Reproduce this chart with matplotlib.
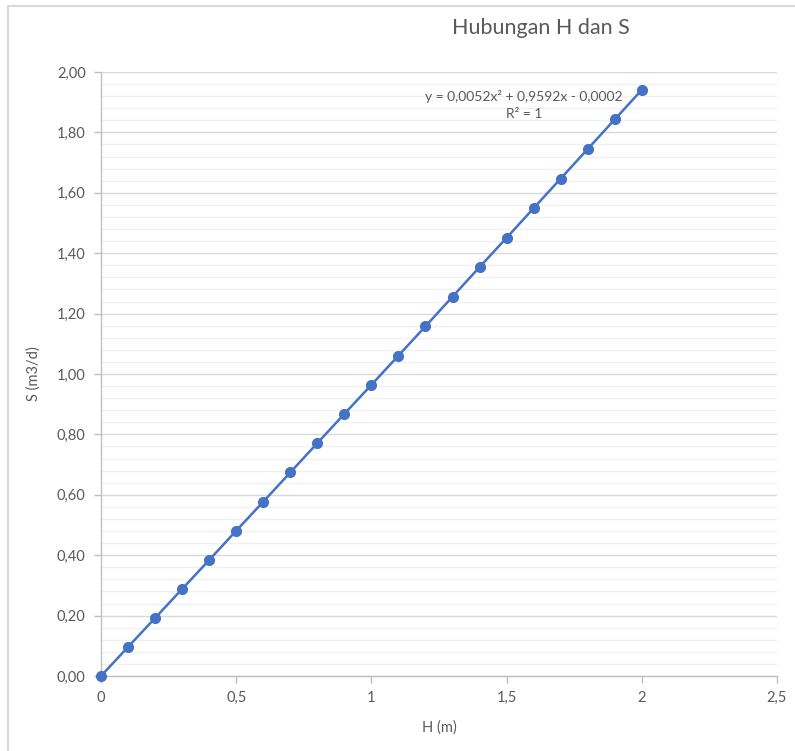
import matplotlib
matplotlib.use("Agg")
import matplotlib.pyplot as plt
from matplotlib.ticker import MultipleLocator, FuncFormatter
from matplotlib.lines import Line2D

H = [0.0, 0.1, 0.2, 0.3, 0.4, 0.5, 0.6, 0.7, 0.8, 0.9, 1.0,
     1.1, 1.2, 1.3, 1.4, 1.5, 1.6, 1.7, 1.8, 1.9, 2.0]
S = [0.000, 0.096, 0.192, 0.288, 0.384, 0.481, 0.577, 0.674, 0.771, 0.868, 0.964,
     1.061, 1.158, 1.256, 1.354, 1.451, 1.549, 1.647, 1.745, 1.843, 1.941]
title = "Hubungan H dan S"
equation = "y = 0,0052x² + 0,9592x - 0,0002"
r2_text = "R² = 1"

plt.rcParams['font.family'] = ['Lato', 'DejaVu Sans']
txt = '#595959'

fig = plt.figure(figsize=(7.95, 7.51), dpi=100)
ax = fig.add_axes([101/795, 1-676/751, 676/795, 604/751])

ax.plot(H, S, color='#4472C4', lw=1.8, marker='o', markersize=7, zorder=3, clip_on=False)

ax.set_xlim(0, 2.5)
ax.set_ylim(0, 2.0)
ax.yaxis.set_major_locator(MultipleLocator(0.2))
ax.yaxis.set_minor_locator(MultipleLocator(0.04))
ax.xaxis.set_major_locator(MultipleLocator(0.5))
ax.yaxis.set_major_formatter(FuncFormatter(lambda v, p: f"{v:.2f}".replace('.', ',')))
ax.xaxis.set_major_formatter(FuncFormatter(lambda v, p: (f"{v:g}").replace('.', ',')))

ax.grid(True, which='major', axis='y', color='#D9D9D9', lw=1)
ax.grid(True, which='minor', axis='y', color='#F0F0F0', lw=1)
ax.set_axisbelow(True)
for s in ['top', 'right']:
    ax.spines[s].set_visible(False)
for s in ['left', 'bottom']:
    ax.spines[s].set_color('#BFBFBF')
    ax.spines[s].set_linewidth(1)
ax.tick_params(axis='both', which='major', colors='#BFBFBF', labelcolor=txt,
               labelsize=10.5, length=5, width=1, direction='out', pad=6)
ax.tick_params(axis='y', which='minor', length=0)

ax.set_xlabel("H (m)", fontsize=10.5, color=txt, labelpad=11)
ax.set_ylabel("S (m3/d)", fontsize=10.5, color=txt, labelpad=12)

fig.text(541/795, 1-28/751, title, fontsize=15.5, color=txt, ha='center', va='center')
ax.text(1.564, 1.92, equation, fontsize=10, color=txt, ha='center', va='center')
ax.text(1.564, 1.862, r2_text, fontsize=10, color=txt, ha='center', va='center')

# chart area border (left and top visible)
fig.add_artist(Line2D([8/795, 8/795], [0, 1-6/751], transform=fig.transFigure, color='#D9D9D9', lw=1.5))
fig.add_artist(Line2D([8/795, 1], [1-6/751, 1-6/751], transform=fig.transFigure, color='#D9D9D9', lw=1.5))

fig.savefig("out.png", dpi=100, facecolor='white')
